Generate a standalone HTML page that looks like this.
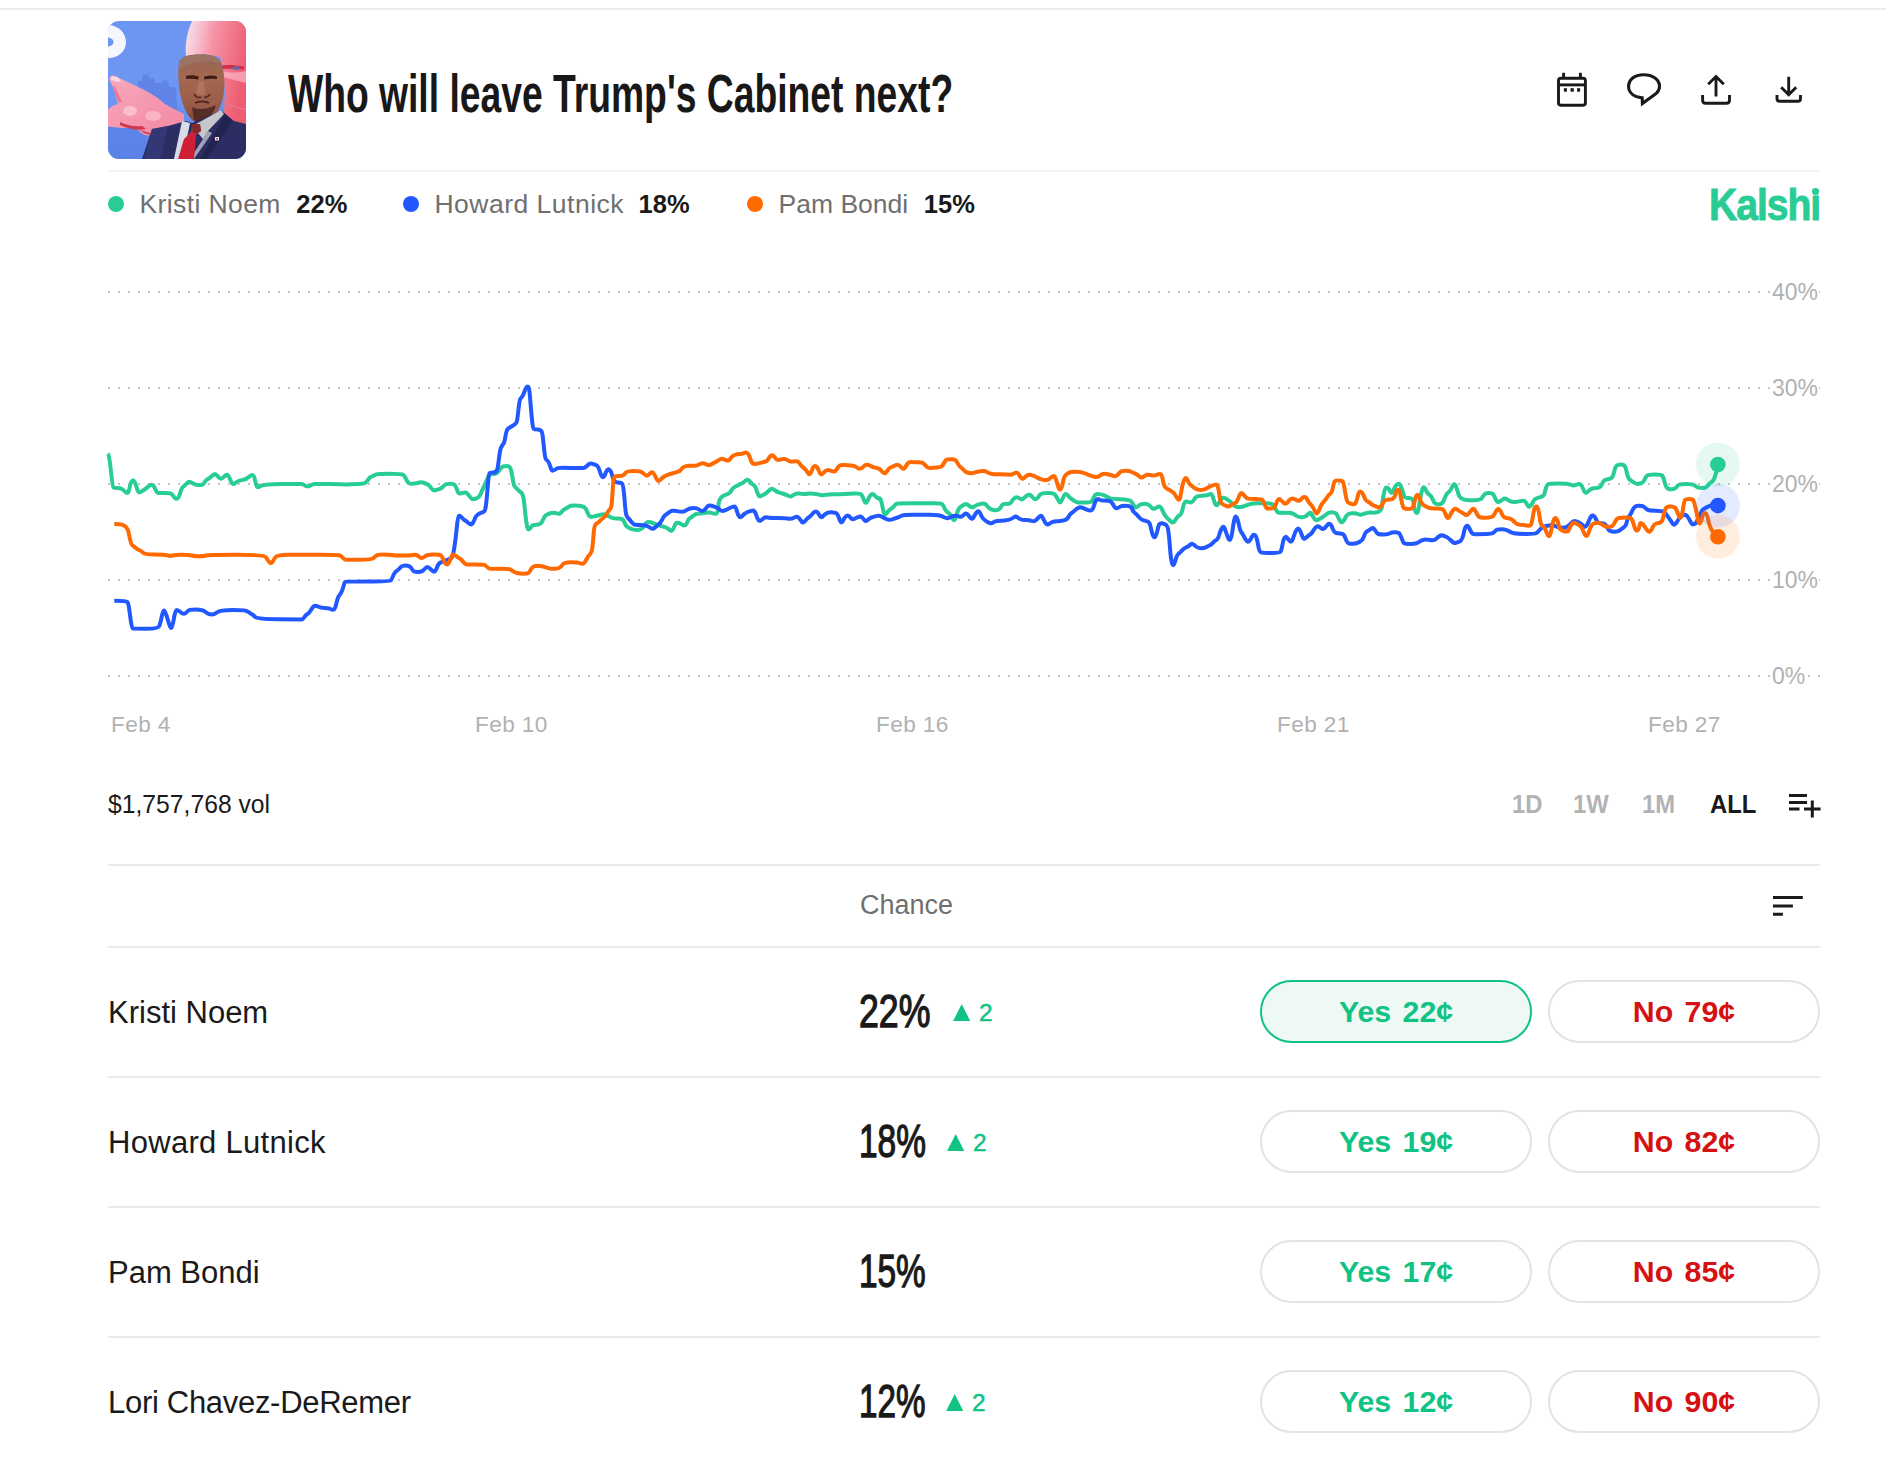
<!DOCTYPE html>
<html><head><meta charset="utf-8">
<style>
*{margin:0;padding:0;box-sizing:border-box}
html,body{width:1886px;height:1464px;background:#fff;overflow:hidden;font-family:"Liberation Sans",sans-serif;color:#1a1a1a}
.a{position:absolute;white-space:nowrap;line-height:normal}
.sep{position:absolute;left:108px;width:1712px;height:2px;background:#e9e9e9}
.lg{font-size:26.5px;color:#6f6f6f}
.lp{font-size:25.5px;font-weight:bold;color:#1a1a1a}
.yl{font-size:23px;color:#b1b1b1;background:#fff;left:1771px;padding:0 1px 0 1px}
.xl{font-size:22.6px;color:#b1b1b1;letter-spacing:0.4px}
.rg{font-size:26.5px;font-weight:bold;color:#b3b3b3;transform-origin:0 0}
.nm{left:108px;font-size:31px;color:#1a1a1a}
.pc{font-size:47px;font-weight:normal;-webkit-text-stroke:1.3px #1a1a1a;color:#1a1a1a;transform-origin:0 0}
.ch{font-size:24.5px;color:#10c383;-webkit-text-stroke:0.5px #10c383}
.bt{position:absolute;width:272px;height:63px;border:2px solid #e3e3e3;border-radius:32px;text-align:center;line-height:59px;font-size:30.3px;font-weight:bold;word-spacing:3px;background:#fff}
.ys{left:1260px;color:#10c383}
.no{left:1548px;color:#d51111}
</style></head><body>
<div style="position:absolute;left:0;top:8px;width:1886px;height:2px;background:#ececec"></div>

<!-- thumbnail -->
<svg style="position:absolute;left:108px;top:21px" width="138" height="138" viewBox="0 0 138 138">
<defs><clipPath id="thc"><rect width="138" height="138" rx="11" ry="11"/></clipPath>
<linearGradient id="bg" x1="0" y1="0" x2="0" y2="1"><stop offset="0" stop-color="#6d95f2"/><stop offset="0.55" stop-color="#6f96f2"/><stop offset="1" stop-color="#5a7fe6"/></linearGradient>
<linearGradient id="face" x1="0" y1="0" x2="1" y2="0.3"><stop offset="0" stop-color="#f6e4f0"/><stop offset="0.2" stop-color="#f8c6d4"/><stop offset="0.45" stop-color="#f594a6"/><stop offset="1" stop-color="#ee5c72"/></linearGradient>
<linearGradient id="hand" x1="0" y1="0" x2="1" y2="1"><stop offset="0" stop-color="#f6aabd"/><stop offset="0.6" stop-color="#f594ac"/><stop offset="1" stop-color="#f28aa3"/></linearGradient>
<linearGradient id="head" x1="0" y1="0" x2="0" y2="1"><stop offset="0" stop-color="#956556"/><stop offset="0.35" stop-color="#a4684f"/><stop offset="0.75" stop-color="#9a5c4a"/><stop offset="1" stop-color="#7a4438"/></linearGradient>
</defs>
<g clip-path="url(#thc)">
<rect width="138" height="138" fill="url(#bg)"/>
<path d="M30,104 L30,60 L34,60 L35,54 L40,53 L42,58 L46,57 L47,62 L54,62 L56,58 L60,61 L62,66 L68,66 L70,100 Z" fill="#5b7fe3" opacity="0.75"/>
<path d="M0,104 L36,104 L40,138 L0,138 Z" fill="#5d82e8" opacity="0.8"/>
<path fill-rule="evenodd" d="M-2,4 C9,3 18,11 18,21 C18,31 9,38 -2,37 Z M-2,16.5 C2,16 5.5,18 5.5,21 C5.5,24 2,26 -2,25.5 Z" fill="#f5f7fd"/>
<path d="M85,-2 L140,-2 L140,104 L124,100 L116,92 L117,72 L115,46 L112,36 L96,33 L78,35 C77,26 78,12 85,-2 Z" fill="url(#face)"/>
<path d="M113,44.5 C120,43.5 128,44 136,45.5 L136,48.5 C128,47.5 120,47.5 113,48 Z" fill="#cc2846" opacity="0.9"/>
<ellipse cx="128" cy="47.2" rx="3.5" ry="1.8" fill="#5d6fae"/>
<path d="M115,50 C122,52 130,52 138,50 L138,62 C130,60 122,58 116,56 Z" fill="#f9b8c6" opacity="0.7"/>
<path d="M115,80 C124,86 132,88 138,88" stroke="#e8788e" stroke-width="1.5" fill="none"/>
<path d="M3,62 C1,59 1,56 3,55 C5,54 8,55 11,57 L30,66 C42,71 50,77 57,83 L66,88 L76,93 L76,102 L60,106 L46,110 L43,114 C38,116 33,112 30,109 L20,107 C10,107 2,106 -2,105 L-2,90 C2,86 6,84 10,83 C8,76 6,68 3,62 Z" fill="url(#hand)"/>
<path d="M3,56 C5,54.5 8,55.5 11,57.5 L13,61 C9,61 5,60 3,58.5 Z" fill="#fcd6e0"/>
<path d="M6,64 C9,70 12,76 14,81 L11,82 C8,76 6,70 5,65 Z" fill="#e8687e" opacity="0.7"/>
<ellipse cx="22" cy="90" rx="7" ry="5" fill="#fbc8d4" opacity="0.8"/>
<ellipse cx="45" cy="95" rx="8" ry="5" fill="#fbc2d0" opacity="0.7"/>
<path d="M12,101 C18,104 26,106 34,105 L38,108 C30,110 20,108 12,104 Z" fill="#c8283e" opacity="0.85"/>
<path d="M32,109 L42,112 L43,114 L36,112 Z" fill="#c8283e" opacity="0.8"/>
<path d="M71,42 C72,36 80,33.5 92,33.5 C104,33.5 111,36 113,42 C116,50 117,60 116,70 C115,80 112,88 106,95 C102,99 97,102 92,102 C87,102 82,98 79,92 C75,85 72,75 71,65 C70,56 70,48 71,42 Z" fill="url(#head)"/>
<path d="M71,42 C72,36 80,33.5 92,33.5 C104,33.5 111,36 113,42 C106,41 98,40 90,41 C84,42 77,44 71,48 Z" fill="#9c7262"/>

<path d="M78,55 C82,53.5 87,54 91,56 L90,58.5 C86,57.5 82,57.5 78,58 Z M96,56 C100,54 105,54 109,55.5 L109,58 C105,57.5 100,57.5 96,58.5 Z" fill="#3e1c16"/>
<path d="M91,60 L88,72 C90,74 94,75 97,73 L96,61 Z" fill="#b47a66" opacity="0.8"/>
<path d="M86,73 C88,76 91,77 93,76 M96,76 C98,77 100,76 102,73" stroke="#5a2c24" stroke-width="1.5" fill="none"/>
<path d="M87,82 C91,80 97,80 101,82" stroke="#4a2420" stroke-width="1.8" fill="none"/>
<path d="M84,86 C90,89 98,89 108,84 C106,90 104,94 100,98 C96,101 90,102 86,99 Z" fill="#4c2622" opacity="0.85"/>
<path d="M34,138 L44,108 L60,105 L78,100 L84,102 L106,93 L113,89 L120,95 L126,100 L138,103 L138,138 Z" fill="#2c2d62"/>
<path d="M44,108 L60,105 L52,138 L36,138 Z" fill="#373a7c" opacity="0.8"/>
<path d="M74,100 L82,102 L80,112 L74,138 L66,138 Z" fill="#d8dbe8"/>
<path d="M88,103 L106,93 L113,89 L116,93 L100,110 L95,118 L90,112 Z" fill="#c6c7cc"/>
<path d="M95,118 L100,110 L104,112 L86,138 L82,138 Z" fill="#c0c2cc" opacity="0.8"/>
<path d="M84,103 L92,103 L93,110 L88,114 L86,138 L70,138 L76,118 L83,111 Z" fill="#cf2038"/>
<path d="M84,103 L92,103 L93,110 L88,113 L84,110 Z" fill="#7e2a2e"/>
<path d="M116,93 L124,99 L118,110 L106,128 L98,138 L92,138 L104,118 Z" fill="#222450"/>
<rect x="107" y="116" width="4" height="3.5" fill="#e6e8f2"/>
<rect x="108" y="117" width="2" height="1.5" fill="#d04050"/>
</g>
</svg>

<div class="a" id="title" style="left:288px;top:61.5px;font-size:54px;font-weight:bold;color:#181818;transform-origin:0 0;transform:scaleX(0.69)">Who will leave Trump's Cabinet next?</div>

<!-- header icons -->
<svg style="position:absolute;left:1540px;top:60px" width="290" height="60" viewBox="1540 60 290 60" fill="none" stroke="#1a1a1a" stroke-width="2.9">
<rect x="1558.5" y="78.2" width="26.9" height="27" rx="2.4"/>
<line x1="1558.5" y1="84.9" x2="1585.4" y2="84.9"/>
<line x1="1563.6" y1="72.8" x2="1563.6" y2="78.2"/>
<line x1="1580.4" y1="72.8" x2="1580.4" y2="78.2"/>
<g fill="#1a1a1a" stroke="none"><rect x="1563.9" y="88.2" width="3" height="3.5"/><rect x="1570.5" y="88.2" width="3.3" height="3.5"/><rect x="1577.1" y="88.2" width="3" height="3.5"/></g>
<path d="M1642.2,97.9 C1633.5,97 1628.6,92.5 1628.6,86.6 C1628.6,79.5 1634.5,74.8 1643.6,74.8 C1652.8,74.8 1659.5,79.5 1659.5,86.3 C1659.5,89.8 1657.6,92.6 1654.8,94.6 L1642.4,103.6 Z" stroke-width="3.1" stroke-linejoin="miter"/>
<path d="M1708.2,84.3 L1716,76.5 L1723.8,84.3 M1716,77 L1716,96.5 M1702.6,94.9 L1702.6,100.3 Q1702.6,103.3 1705.6,103.3 L1726.5,103.3 Q1729.5,103.3 1729.5,100.3 L1729.5,94.9"/>
<path d="M1781.2,87.2 L1788.7,94.7 L1796.2,87.2 M1788.7,76.8 L1788.7,95 M1777,94.9 L1777,98.8 Q1777,101.3 1779.5,101.3 L1798,101.3 Q1800.5,101.3 1800.5,98.8 L1800.5,94.9"/>
</svg>

<div class="sep" style="top:170px;height:2px;background:#f5f5f5"></div>

<!-- legend -->
<div class="a" style="left:108px;top:196px;width:16px;height:16px;border-radius:50%;background:#28cd94"></div>
<div class="a lg" style="left:139.5px;top:189.3px;letter-spacing:0.4px">Kristi Noem</div>
<div class="a lp" style="left:296.3px;top:190.2px">22%</div>
<div class="a" style="left:403px;top:196px;width:16px;height:16px;border-radius:50%;background:#2258ff"></div>
<div class="a lg" style="left:434.4px;top:189.3px;letter-spacing:0.5px">Howard Lutnick</div>
<div class="a lp" style="left:638.6px;top:190.2px">18%</div>
<div class="a" style="left:747px;top:196px;width:16px;height:16px;border-radius:50%;background:#ff6a00"></div>
<div class="a lg" style="left:778.6px;top:189.3px">Pam Bondi</div>
<div class="a lp" style="left:923.8px;top:190.2px">15%</div>

<div class="a" id="kal" style="left:1709px;top:180.5px;font-size:43.5px;font-weight:bold;color:#29cc94;letter-spacing:-1.2px;-webkit-text-stroke:0.9px #29cc94;transform-origin:0 0;transform:scaleX(0.9)">Kalsh&#305;</div>
<div class="a" style="left:1811.7px;top:187.8px;width:7.8px;height:7.4px;border-radius:50%;background:#29cc94"></div>

<!-- chart -->
<svg style="position:absolute;left:0;top:0" width="1886" height="760">
<g stroke="#c4c4c4" stroke-width="2" stroke-dasharray="2 8" fill="none">
<line x1="108" y1="292" x2="1822" y2="292"/>
<line x1="108" y1="388" x2="1822" y2="388"/>
<line x1="108" y1="484" x2="1822" y2="484"/>
<line x1="108" y1="580" x2="1822" y2="580"/>
<line x1="108" y1="676" x2="1822" y2="676"/>
</g>
<path d="M107.9,453.7 Q109.3,455.1 110.9,470.9 Q112.6,486.7 113.4,487.4 Q114.3,488.1 117.2,488.1 Q120.1,488.1 121.5,488.8 Q123.0,489.5 124.8,491.3 Q126.5,493.1 127.6,492.8 Q128.7,492.4 129.8,487.0 Q130.8,481.6 132.1,480.9 Q133.3,480.2 134.2,481.3 Q135.2,482.4 136.6,487.4 Q138.0,492.4 139.1,492.4 Q140.2,492.4 141.6,491.4 Q143.0,490.3 144.4,489.6 Q145.9,488.8 147.7,487.0 Q149.5,485.2 150.9,484.9 Q152.4,484.5 153.3,485.6 Q154.2,486.7 155.4,489.5 Q156.7,492.4 157.8,492.8 Q158.8,493.1 164.6,493.1 Q170.3,493.1 171.4,493.9 Q172.5,494.6 174.2,497.1 Q176.0,499.6 177.4,498.5 Q178.9,497.4 180.4,492.4 Q181.8,487.4 183.2,486.7 Q184.6,486.0 186.4,483.8 Q188.2,481.6 189.3,481.8 Q190.4,481.9 192.6,483.2 Q194.7,484.5 197.6,484.9 Q200.4,485.2 201.9,484.9 Q203.3,484.5 204.8,482.0 Q206.2,479.5 208.0,478.8 Q209.8,478.1 211.9,476.0 Q214.1,473.8 215.1,474.1 Q216.2,474.5 218.0,476.6 Q219.8,478.8 220.9,478.8 Q222.0,478.8 224.2,476.6 Q226.3,474.5 227.4,474.9 Q228.4,475.2 230.2,479.5 Q232.0,483.8 233.1,484.0 Q234.1,484.2 236.3,482.2 Q238.5,480.2 242.4,479.9 Q246.3,479.5 248.9,477.0 Q251.4,474.5 252.8,475.2 Q254.2,475.9 255.3,481.3 Q256.4,486.7 257.4,487.0 Q258.5,487.4 261.1,485.8 Q263.6,484.2 281.8,484.0 Q300.0,483.8 301.4,484.0 Q302.9,484.2 304.3,485.1 Q305.7,486.0 307.1,486.4 Q308.6,486.7 310.8,485.4 Q312.9,484.2 314.4,484.0 Q315.8,483.8 329.4,484.0 Q343.0,484.2 345.1,484.4 Q347.3,484.5 349.5,484.2 Q351.6,483.9 358.1,483.9 Q364.6,483.9 366.0,482.4 Q367.4,480.9 368.5,479.1 Q369.6,477.3 371.4,476.6 Q373.2,475.9 375.0,474.9 Q376.8,473.8 389.4,473.8 Q401.9,473.8 403.3,474.9 Q404.7,475.9 406.1,479.1 Q407.6,482.4 408.7,483.1 Q409.8,483.8 412.3,483.8 Q414.8,483.8 417.6,482.9 Q420.5,481.9 422.6,482.5 Q424.8,483.1 427.0,484.1 Q429.1,485.2 431.2,488.1 Q433.4,491.0 435.5,490.2 Q437.7,489.5 439.9,488.8 Q442.0,488.1 443.4,486.3 Q444.9,484.5 446.4,484.1 Q447.8,483.8 450.6,483.8 Q453.5,483.8 454.6,484.9 Q455.7,486.0 456.8,489.2 Q457.8,492.4 458.6,493.1 Q459.3,493.8 461.5,493.3 Q463.6,492.8 465.0,492.6 Q466.4,492.4 467.9,494.2 Q469.3,496.0 470.8,497.8 Q472.2,499.6 473.6,499.2 Q475.0,498.9 477.1,498.1 Q479.3,497.4 480.4,494.5 Q481.5,491.7 482.6,489.5 Q483.6,487.4 485.8,482.4 Q487.9,477.3 488.9,475.6 Q490.0,474.0 492.9,474.0 Q495.7,474.0 497.1,472.9 Q498.6,471.8 500.1,469.3 Q501.5,466.8 502.9,466.5 Q504.3,466.1 506.9,466.1 Q509.4,466.1 510.1,467.6 Q510.8,469.0 511.5,472.2 Q512.2,475.4 513.0,480.4 Q513.7,485.5 515.1,486.9 Q516.5,488.3 518.0,489.8 Q519.4,491.2 521.2,492.6 Q523.0,494.1 523.7,499.1 Q524.4,504.1 525.1,512.0 Q525.9,519.9 526.8,524.9 Q527.6,529.9 528.9,529.2 Q530.2,528.5 531.2,526.7 Q532.3,524.9 536.2,524.7 Q540.2,524.5 541.3,522.9 Q542.4,521.3 543.5,518.8 Q544.5,516.3 546.0,515.2 Q547.4,514.2 549.5,513.5 Q551.7,512.7 553.5,512.7 Q555.3,512.7 557.1,513.5 Q558.9,514.2 560.0,513.5 Q561.0,512.7 562.1,511.3 Q563.2,509.9 565.4,508.8 Q567.5,507.7 568.9,506.6 Q570.3,505.6 574.6,505.6 Q579.0,505.6 581.9,506.3 Q584.7,507.0 585.8,508.8 Q586.8,510.6 587.9,513.5 Q589.0,516.3 590.0,516.6 Q591.1,517.0 592.9,516.6 Q594.7,516.3 596.9,515.8 Q599.0,515.3 600.8,514.6 Q602.6,513.9 604.4,514.4 Q606.2,514.9 607.7,515.6 Q609.1,516.3 611.2,517.4 Q613.4,518.5 617.7,518.5 Q622.0,518.5 623.0,519.9 Q624.1,521.3 624.9,523.5 Q625.6,525.6 627.4,526.9 Q629.2,528.2 631.4,529.0 Q633.5,529.9 636.4,529.9 Q639.2,529.9 641.0,529.2 Q642.8,528.5 644.6,525.3 Q646.4,522.1 648.5,522.1 Q650.7,522.1 653.5,523.3 Q656.4,524.5 659.3,525.5 Q662.2,526.4 664.0,526.8 Q665.8,527.1 667.2,528.2 Q668.6,529.2 670.0,530.3 Q671.5,531.4 672.5,530.0 Q673.6,528.5 674.7,525.6 Q675.8,522.8 676.8,522.8 Q677.9,522.8 679.0,523.0 Q680.0,523.3 682.1,524.6 Q684.2,526.0 685.3,525.2 Q686.4,524.4 687.5,521.8 Q688.5,519.1 689.8,518.3 Q691.1,517.5 693.5,515.6 Q695.9,513.8 697.2,513.8 Q698.6,513.8 700.5,513.5 Q702.3,513.2 703.9,513.0 Q705.5,512.7 707.6,512.5 Q709.7,512.2 711.8,513.0 Q713.9,513.8 715.5,513.8 Q717.1,513.8 717.7,511.1 Q718.2,508.5 718.5,505.3 Q718.7,502.1 719.8,499.7 Q720.8,497.3 722.6,496.2 Q724.5,495.2 726.6,494.4 Q728.8,493.6 729.8,492.6 Q730.9,491.5 732.0,489.6 Q733.0,487.8 735.1,486.8 Q737.3,485.7 739.1,484.6 Q741.0,483.6 742.3,483.1 Q743.6,482.5 745.2,480.9 Q746.8,479.3 747.8,479.9 Q748.9,480.4 750.5,482.2 Q752.1,484.1 753.7,485.1 Q755.3,486.2 756.1,488.9 Q756.9,491.5 758.0,494.1 Q759.0,496.8 760.4,496.2 Q761.7,495.7 763.8,494.6 Q765.9,493.6 767.5,492.0 Q769.1,490.4 770.4,489.4 Q771.7,488.3 773.0,489.1 Q774.4,489.9 775.7,490.9 Q777.0,492.0 779.4,492.7 Q781.8,493.4 783.9,494.0 Q786.0,494.7 788.1,495.8 Q790.3,496.8 791.3,496.2 Q792.4,495.7 794.5,494.4 Q796.6,493.1 799.8,493.6 Q803.0,494.2 805.1,493.9 Q807.3,493.6 810.5,493.6 Q813.6,493.6 815.8,493.9 Q817.9,494.2 820.0,494.9 Q822.1,495.7 825.3,494.9 Q828.5,494.2 833.8,494.2 Q839.1,494.2 844.4,493.9 Q849.7,493.6 855.0,493.5 Q860.3,493.4 861.3,494.5 Q862.4,495.7 863.5,498.9 Q864.5,502.1 865.5,502.6 Q866.6,503.2 867.7,500.5 Q868.8,497.9 870.1,495.8 Q871.4,493.6 872.8,494.1 Q874.1,494.7 875.7,496.3 Q877.2,497.9 878.0,498.4 Q878.8,498.9 879.4,498.4 Q880.0,497.9 880.8,500.0 Q881.6,502.1 882.7,507.9 Q883.7,513.8 884.8,514.3 Q885.8,514.8 886.9,513.0 Q888.0,511.1 889.3,510.1 Q890.6,509.0 892.0,508.2 Q893.3,507.4 894.3,505.8 Q895.4,504.2 897.0,503.7 Q898.6,503.2 911.5,503.2 Q924.5,503.2 932.2,503.2 Q939.9,503.2 941.2,503.7 Q942.6,504.2 943.4,505.8 Q944.2,507.4 945.0,509.2 Q945.7,511.1 947.6,512.2 Q949.5,513.2 950.8,515.1 Q952.1,517.0 952.9,518.9 Q953.7,520.7 954.5,519.9 Q955.3,519.1 956.1,516.5 Q956.9,513.8 957.7,511.1 Q958.5,508.5 960.6,506.9 Q962.7,505.3 964.3,504.5 Q965.9,503.7 967.0,504.2 Q968.0,504.8 969.9,506.4 Q971.7,507.9 973.5,506.9 Q975.4,505.8 977.0,505.0 Q978.6,504.2 981.8,503.7 Q985.0,503.2 986.6,505.3 Q988.2,507.4 989.5,508.4 Q990.8,509.5 993.7,510.1 Q996.6,510.6 998.2,509.8 Q999.8,509.0 1000.9,506.9 Q1002.0,504.8 1003.5,504.2 Q1005.1,503.7 1007.5,503.9 Q1009.9,504.2 1011.2,502.1 Q1012.6,500.0 1014.2,498.4 Q1015.7,496.8 1017.3,497.4 Q1018.9,497.9 1020.5,498.9 Q1022.1,500.0 1023.7,498.4 Q1025.3,496.8 1026.9,495.5 Q1028.5,494.2 1030.0,494.9 Q1031.6,495.7 1033.2,497.9 Q1034.8,500.0 1036.4,498.9 Q1038.0,497.9 1039.0,496.0 Q1040.1,494.2 1041.7,493.6 Q1043.3,493.1 1048.6,493.1 Q1053.9,493.1 1055.2,495.0 Q1056.6,496.8 1058.2,500.0 Q1059.7,503.2 1060.8,501.9 Q1061.9,500.5 1063.0,497.6 Q1064.0,494.7 1065.3,494.1 Q1066.6,493.6 1068.2,495.8 Q1069.8,497.9 1071.2,498.7 Q1072.5,499.5 1074.3,500.8 Q1076.2,502.1 1078.1,502.4 Q1080.0,502.6 1085.3,502.6 Q1090.6,502.6 1091.7,501.3 Q1092.7,500.0 1093.8,497.4 Q1094.8,494.7 1096.4,494.1 Q1098.0,493.6 1101.2,494.4 Q1104.4,495.2 1106.5,496.5 Q1108.6,497.9 1110.2,498.4 Q1111.8,498.9 1120.3,499.2 Q1128.8,499.5 1130.4,500.8 Q1132.0,502.1 1133.0,504.2 Q1134.1,506.4 1135.2,507.1 Q1136.2,507.9 1137.8,506.4 Q1139.4,504.8 1141.5,504.2 Q1143.6,503.7 1146.2,503.9 Q1148.9,504.2 1150.5,506.4 Q1152.1,508.5 1153.2,508.8 Q1154.2,509.0 1156.3,507.7 Q1158.5,506.4 1159.8,506.6 Q1161.1,506.9 1162.4,510.3 Q1163.8,513.8 1165.4,515.9 Q1167.0,518.0 1168.5,519.4 Q1170.1,520.7 1171.4,522.0 Q1172.8,523.3 1174.1,521.7 Q1175.4,520.1 1176.5,518.2 Q1177.6,516.4 1179.2,515.6 Q1180.7,514.8 1181.5,512.7 Q1182.3,510.6 1183.1,506.9 Q1183.9,503.2 1185.0,502.1 Q1186.0,501.0 1188.2,501.8 Q1190.3,502.6 1191.3,502.4 Q1192.4,502.1 1193.8,500.0 Q1195.1,497.9 1196.4,496.8 Q1197.7,495.7 1202.5,495.7 Q1207.3,495.7 1209.2,494.6 Q1211.0,493.6 1211.8,494.6 Q1212.6,495.7 1213.7,499.7 Q1214.7,503.7 1215.8,504.8 Q1216.8,505.8 1217.8,504.5 Q1218.9,503.2 1220.5,500.0 Q1222.1,496.8 1224.8,498.1 Q1227.4,499.5 1229.0,500.6 Q1230.6,501.6 1232.2,503.7 Q1233.8,505.8 1235.9,506.6 Q1238.0,507.4 1240.1,507.1 Q1242.2,506.9 1244.3,506.1 Q1246.5,505.3 1249.7,504.2 Q1252.9,503.2 1256.6,503.2 Q1260.3,503.2 1266.7,503.2 Q1273.0,503.2 1274.6,506.9 Q1276.2,510.6 1277.2,511.7 Q1278.3,512.7 1279.2,512.7 Q1280.0,512.7 1285.8,512.7 Q1291.7,512.7 1293.2,513.8 Q1294.8,514.8 1296.4,515.9 Q1298.0,517.0 1301.2,517.2 Q1304.4,517.5 1306.0,516.1 Q1307.6,514.8 1308.9,513.5 Q1310.2,512.2 1311.0,513.2 Q1311.8,514.3 1312.8,516.4 Q1313.9,518.5 1315.2,519.6 Q1316.6,520.7 1318.4,519.6 Q1320.3,518.5 1322.4,517.2 Q1324.5,515.9 1326.1,514.5 Q1327.7,513.2 1329.3,512.7 Q1330.9,512.2 1333.0,512.4 Q1335.1,512.5 1336.2,513.6 Q1337.3,514.8 1338.3,517.5 Q1339.4,520.1 1340.5,521.5 Q1341.5,522.8 1342.5,522.0 Q1343.6,521.2 1345.2,518.0 Q1346.8,514.8 1348.4,514.0 Q1350.0,513.2 1353.2,513.2 Q1356.4,513.2 1358.5,514.3 Q1360.6,515.4 1362.7,514.3 Q1364.8,513.2 1366.9,512.9 Q1369.1,512.5 1371.2,512.6 Q1373.3,512.7 1375.4,512.5 Q1377.6,512.2 1379.7,511.2 Q1381.8,510.1 1382.3,504.0 Q1382.9,497.9 1384.0,492.9 Q1385.0,487.8 1386.0,487.6 Q1387.1,487.3 1388.2,488.4 Q1389.2,489.4 1390.2,491.5 Q1391.3,493.6 1392.4,492.0 Q1393.5,490.4 1395.0,487.2 Q1396.6,484.1 1397.9,483.9 Q1399.3,483.6 1400.3,485.1 Q1401.4,486.7 1402.5,490.7 Q1403.5,494.7 1404.3,496.3 Q1405.1,497.9 1408.3,498.1 Q1411.5,498.4 1412.3,499.2 Q1413.1,500.0 1413.9,505.3 Q1414.7,510.6 1415.5,511.9 Q1416.3,513.2 1417.1,513.0 Q1417.9,512.7 1418.7,508.5 Q1419.4,504.2 1420.2,498.9 Q1421.0,493.6 1422.1,490.1 Q1423.2,486.7 1424.2,487.5 Q1425.3,488.3 1426.1,490.5 Q1426.9,492.6 1428.2,493.6 Q1429.5,494.7 1430.5,495.8 Q1431.6,496.8 1432.7,499.5 Q1433.8,502.1 1434.8,503.1 Q1435.9,504.2 1439.1,504.2 Q1442.2,504.2 1443.3,501.5 Q1444.4,498.9 1445.5,496.2 Q1446.5,493.6 1448.1,492.6 Q1449.7,491.5 1450.8,489.4 Q1451.8,487.3 1452.8,485.5 Q1453.9,483.6 1455.0,484.6 Q1456.0,485.7 1457.1,489.6 Q1458.2,493.6 1459.0,495.5 Q1459.7,497.3 1461.1,498.1 Q1462.4,498.9 1464.5,499.7 Q1466.6,500.5 1473.3,500.2 Q1480.0,500.0 1481.0,498.9 Q1482.1,497.9 1483.2,496.0 Q1484.2,494.2 1485.8,493.5 Q1487.4,492.8 1489.6,493.0 Q1491.7,493.1 1492.8,493.9 Q1493.8,494.7 1494.8,497.4 Q1495.9,500.0 1497.0,501.3 Q1498.0,502.6 1499.6,501.6 Q1501.2,500.5 1502.8,499.4 Q1504.4,498.4 1505.5,498.6 Q1506.5,498.9 1507.8,499.9 Q1509.2,501.0 1510.5,501.4 Q1511.8,501.9 1515.0,501.9 Q1518.2,501.9 1520.3,501.2 Q1522.4,500.5 1523.8,500.8 Q1525.1,501.0 1526.2,502.9 Q1527.2,504.8 1528.2,506.1 Q1529.3,507.4 1530.7,505.8 Q1532.0,504.2 1533.0,501.9 Q1534.1,499.5 1535.7,498.7 Q1537.3,497.9 1539.4,497.4 Q1541.5,496.8 1542.8,496.0 Q1544.2,495.2 1544.7,492.8 Q1545.2,490.4 1546.0,487.8 Q1546.8,485.1 1547.8,484.4 Q1548.9,483.6 1558.5,483.6 Q1568.0,483.6 1570.2,484.6 Q1572.3,485.7 1573.8,485.4 Q1575.4,485.1 1577.3,484.4 Q1579.2,483.6 1580.5,484.4 Q1581.8,485.1 1582.8,488.1 Q1583.9,491.0 1585.0,492.2 Q1586.0,493.4 1587.6,491.9 Q1589.2,490.4 1590.6,489.4 Q1591.9,488.3 1595.8,488.1 Q1599.8,487.8 1600.9,486.0 Q1602.0,484.1 1603.0,482.0 Q1604.1,479.8 1607.8,479.3 Q1611.5,478.8 1612.5,476.6 Q1613.6,474.5 1614.4,470.8 Q1615.2,467.1 1616.6,465.8 Q1617.9,464.5 1620.8,464.5 Q1623.7,464.5 1624.8,466.1 Q1625.8,467.6 1626.8,472.6 Q1627.9,477.7 1629.2,479.0 Q1630.6,480.4 1632.2,481.4 Q1633.8,482.5 1635.3,483.3 Q1636.9,484.1 1638.5,483.8 Q1640.0,483.4 1641.7,483.0 Q1643.3,482.6 1644.5,479.8 Q1645.7,476.9 1647.0,475.6 Q1648.2,474.4 1654.8,474.4 Q1661.3,474.4 1662.3,475.6 Q1663.4,476.9 1664.4,481.4 Q1665.4,485.9 1666.7,487.5 Q1667.9,489.2 1671.2,489.2 Q1674.4,489.2 1675.7,487.9 Q1676.9,486.7 1678.1,485.3 Q1679.3,483.9 1685.9,483.9 Q1692.5,483.9 1694.5,485.3 Q1696.6,486.7 1697.8,487.4 Q1699.0,488.0 1702.3,488.0 Q1705.6,488.0 1706.8,486.6 Q1708.0,485.1 1709.7,483.6 Q1711.3,482.2 1712.5,481.2 Q1713.8,480.2 1714.6,477.7 Q1715.4,475.2 1715.8,473.6 Q1716.2,472.0 1717.1,468.3 L1717.9,464.6" fill="none" stroke="#28cd94" stroke-width="4.0" stroke-linejoin="round" stroke-linecap="butt"/>
<path d="M114.3,600.7 Q126.5,600.7 127.6,602.2 Q128.7,603.6 130.1,615.8 Q131.6,628.0 132.6,628.4 Q133.7,628.7 145.9,628.7 Q158.1,628.7 159.2,626.2 Q160.3,623.7 161.7,616.9 Q163.1,610.1 164.2,610.5 Q165.3,610.8 167.8,619.8 Q170.3,628.7 171.4,627.7 Q172.5,626.6 173.9,618.4 Q175.3,610.1 176.8,610.1 Q178.2,610.1 180.7,612.2 Q183.2,614.4 184.6,613.6 Q186.1,612.9 187.6,611.2 Q189.0,609.6 195.8,609.6 Q202.6,609.6 205.4,612.0 Q208.3,614.4 211.6,614.4 Q214.8,614.4 217.3,612.2 Q219.8,610.1 233.1,610.1 Q246.3,610.1 248.4,611.9 Q250.6,613.6 252.1,614.4 Q253.5,615.1 255.3,617.1 Q257.1,619.1 278.6,619.2 Q300.0,619.4 301.4,619.4 Q302.9,619.4 304.3,617.2 Q305.7,615.1 307.5,614.0 Q309.3,612.9 311.5,609.3 Q313.6,605.8 315.1,605.8 Q316.5,605.8 318.6,606.8 Q320.8,607.9 324.4,607.9 Q328.0,607.9 330.5,609.0 Q333.0,610.1 334.1,609.4 Q335.2,608.6 336.6,602.5 Q338.0,596.4 339.8,594.6 Q341.6,592.8 343.1,587.5 Q344.5,582.1 345.2,581.8 Q345.9,581.4 367.8,581.4 Q389.7,581.4 390.8,580.3 Q391.8,579.2 393.2,575.6 Q394.7,572.0 396.5,571.0 Q398.3,569.9 400.1,567.8 Q401.9,565.6 405.9,565.6 Q409.8,565.6 411.6,568.5 Q413.3,571.3 414.1,571.6 Q414.8,572.0 418.4,572.0 Q422.0,572.0 424.1,569.5 Q426.3,567.0 427.4,567.0 Q428.4,567.0 430.9,569.5 Q433.4,572.0 434.5,571.6 Q435.6,571.3 437.1,567.3 Q438.5,563.4 440.2,562.7 Q442.0,562.0 445.6,560.5 Q449.2,559.1 451.0,558.4 Q452.8,557.7 454.2,548.4 Q455.7,539.0 456.8,527.5 Q457.8,516.1 458.9,515.8 Q460.0,515.4 461.8,517.5 Q463.6,519.7 465.0,520.4 Q466.4,521.1 468.5,523.1 Q470.7,525.1 471.8,524.2 Q472.9,523.3 474.4,519.7 Q475.8,516.1 477.2,515.0 Q478.6,513.9 480.4,513.2 Q482.2,512.5 483.6,511.8 Q485.1,511.1 485.8,506.4 Q486.5,501.7 487.6,488.1 Q488.7,474.5 489.4,473.6 Q490.0,472.6 492.9,472.6 Q495.7,472.6 496.8,470.5 Q497.9,468.3 498.9,459.0 Q500.0,449.6 501.1,447.5 Q502.2,445.3 503.2,444.2 Q504.3,443.1 505.4,436.6 Q506.5,430.2 507.6,429.1 Q508.7,428.1 510.5,427.0 Q512.2,425.9 514.0,424.9 Q515.8,423.8 516.5,422.4 Q517.3,420.9 518.3,410.9 Q519.4,400.8 520.1,399.4 Q520.8,398.0 521.9,396.9 Q523.0,395.8 524.5,391.5 Q525.9,387.2 527.0,386.7 Q528.0,386.2 528.8,387.8 Q529.5,389.3 530.5,403.0 Q531.6,416.6 532.3,422.4 Q533.0,428.1 533.8,428.8 Q534.5,429.5 537.4,429.5 Q540.2,429.5 541.3,430.9 Q542.4,432.4 543.1,439.5 Q543.8,446.7 544.5,452.4 Q545.2,458.2 546.0,459.3 Q546.7,460.4 547.8,461.1 Q548.8,461.8 549.9,465.4 Q551.0,469.0 551.7,470.1 Q552.4,471.1 554.2,470.1 Q556.0,469.0 557.5,468.2 Q558.9,467.5 571.1,467.9 Q583.3,468.3 584.7,467.6 Q586.1,466.8 587.9,465.0 Q589.7,463.2 591.5,463.6 Q593.3,464.0 595.1,464.7 Q596.9,465.4 598.0,466.9 Q599.0,468.3 600.1,472.2 Q601.2,476.1 602.2,476.9 Q603.3,477.6 604.0,476.5 Q604.8,475.4 605.8,472.5 Q606.9,469.7 608.0,469.4 Q609.1,469.0 610.2,470.4 Q611.2,471.8 612.0,474.7 Q612.7,477.6 613.8,480.1 Q614.8,482.6 618.0,482.6 Q621.3,482.6 622.3,484.1 Q623.4,485.5 624.5,499.1 Q625.6,512.7 626.3,514.9 Q627.0,517.0 628.5,518.5 Q629.9,519.9 631.3,521.7 Q632.8,523.5 633.8,524.2 Q634.9,524.9 639.9,524.9 Q644.9,524.9 647.1,526.0 Q649.3,527.1 651.0,528.2 Q652.8,529.2 654.6,527.8 Q656.4,526.4 658.5,524.6 Q660.7,522.8 662.2,519.5 Q663.6,516.3 665.0,515.2 Q666.5,514.2 668.6,512.6 Q670.8,511.0 672.2,510.8 Q673.6,510.6 676.8,511.1 Q680.0,511.7 682.1,511.7 Q684.2,511.7 686.9,509.8 Q689.5,507.9 693.2,507.9 Q697.0,507.9 699.1,509.5 Q701.2,511.1 702.5,511.1 Q703.9,511.1 705.8,508.5 Q707.6,505.8 709.2,505.6 Q710.8,505.3 713.5,506.4 Q716.1,507.4 717.4,507.9 Q718.7,508.5 720.3,510.1 Q721.9,511.7 724.8,510.4 Q727.7,509.0 729.3,508.2 Q730.9,507.4 732.5,506.9 Q734.1,506.4 734.9,506.6 Q735.7,506.9 736.8,510.8 Q737.8,514.8 739.1,516.4 Q740.4,518.0 741.8,516.4 Q743.1,514.8 745.0,513.5 Q746.8,512.2 749.5,511.4 Q752.1,510.6 753.2,510.6 Q754.2,510.6 755.0,512.2 Q755.8,513.8 756.8,516.7 Q757.9,519.6 758.7,520.4 Q759.5,521.2 760.9,520.4 Q762.2,519.6 763.5,518.3 Q764.8,517.0 767.5,517.5 Q770.1,518.0 777.5,518.0 Q785.0,518.0 787.6,518.5 Q790.3,519.1 791.9,518.5 Q793.5,518.0 795.0,517.2 Q796.6,516.4 798.0,517.2 Q799.3,518.0 800.6,520.1 Q802.0,522.3 802.8,522.5 Q803.5,522.8 804.6,521.5 Q805.7,520.1 807.0,518.8 Q808.3,517.5 809.9,516.5 Q811.5,515.4 812.5,513.8 Q813.6,512.2 814.7,511.7 Q815.7,511.1 816.8,511.9 Q817.9,512.7 819.0,514.5 Q820.0,516.4 821.0,517.0 Q822.1,517.5 823.2,516.1 Q824.2,514.8 825.8,513.8 Q827.4,512.7 829.0,512.5 Q830.6,512.2 833.2,512.5 Q835.9,512.7 837.0,513.8 Q838.0,514.8 839.0,518.0 Q840.1,521.2 840.9,522.0 Q841.7,522.8 842.8,521.0 Q843.8,519.1 845.1,517.2 Q846.5,515.4 847.5,515.4 Q848.6,515.4 849.7,516.7 Q850.7,518.0 851.8,518.8 Q852.9,519.6 854.5,518.8 Q856.0,518.0 857.6,517.2 Q859.2,516.4 860.2,516.4 Q861.3,516.4 862.4,517.8 Q863.5,519.1 864.5,520.2 Q865.6,521.2 866.7,520.7 Q867.7,520.1 869.3,518.8 Q870.9,517.5 873.0,517.0 Q875.1,516.4 877.5,515.9 Q880.0,515.4 882.6,517.2 Q885.3,519.1 888.0,519.6 Q890.6,520.1 893.2,519.0 Q895.9,518.0 897.8,517.5 Q899.6,517.0 901.2,515.9 Q902.8,514.8 913.6,514.8 Q924.5,514.8 929.8,514.8 Q935.1,514.8 938.3,515.3 Q941.5,515.9 944.1,517.2 Q946.8,518.5 948.4,518.0 Q950.0,517.5 952.1,516.5 Q954.2,515.4 956.4,515.9 Q958.5,516.4 960.1,516.7 Q961.7,517.0 963.2,515.4 Q964.8,513.8 965.9,513.5 Q967.0,513.2 968.3,515.1 Q969.6,517.0 971.0,518.3 Q972.3,519.6 973.6,517.2 Q974.9,514.8 976.2,513.0 Q977.6,511.1 978.7,511.4 Q979.7,511.7 980.8,514.4 Q981.8,517.0 983.1,518.5 Q984.5,520.1 985.8,520.9 Q987.1,521.7 989.0,522.8 Q990.8,523.8 992.1,523.0 Q993.5,522.3 995.0,521.5 Q996.6,520.7 1000.9,520.7 Q1005.1,520.7 1008.3,519.9 Q1011.5,519.1 1013.6,517.5 Q1015.7,515.9 1017.3,517.2 Q1018.9,518.5 1020.5,519.3 Q1022.1,520.1 1025.8,520.1 Q1029.5,520.1 1031.7,520.9 Q1033.8,521.7 1035.3,520.7 Q1036.9,519.6 1038.5,517.5 Q1040.1,515.4 1041.2,515.9 Q1042.2,516.4 1043.6,519.6 Q1044.9,522.8 1046.2,523.8 Q1047.6,524.9 1049.2,523.8 Q1050.7,522.8 1052.3,522.0 Q1053.9,521.2 1057.1,521.2 Q1060.3,521.2 1063.8,520.4 Q1067.2,519.6 1068.5,517.0 Q1069.8,514.3 1071.4,513.2 Q1073.0,512.2 1074.6,510.6 Q1076.2,509.0 1078.1,507.9 Q1080.0,506.9 1082.1,507.7 Q1084.2,508.5 1087.4,509.8 Q1090.6,511.1 1091.9,509.8 Q1093.3,508.5 1094.3,504.8 Q1095.4,501.0 1096.5,499.7 Q1097.5,498.4 1099.3,499.4 Q1101.2,500.5 1102.8,500.5 Q1104.4,500.5 1107.6,500.8 Q1110.8,501.0 1111.8,502.6 Q1112.9,504.2 1114.2,506.4 Q1115.5,508.5 1116.8,508.2 Q1118.2,507.9 1119.8,506.9 Q1121.4,505.8 1125.6,505.8 Q1129.8,505.8 1130.9,507.1 Q1132.0,508.5 1132.8,510.4 Q1133.6,512.2 1135.4,513.5 Q1137.3,514.8 1138.3,516.4 Q1139.4,518.0 1141.5,519.4 Q1143.6,520.7 1146.0,521.0 Q1148.4,521.2 1149.5,523.3 Q1150.5,525.4 1151.3,529.6 Q1152.1,533.9 1153.2,536.0 Q1154.2,538.2 1155.3,536.6 Q1156.4,535.0 1157.5,530.2 Q1158.5,525.4 1159.3,524.3 Q1160.1,523.3 1161.4,523.3 Q1162.7,523.3 1165.1,524.3 Q1167.5,525.4 1168.3,530.7 Q1169.1,536.0 1169.9,546.6 Q1170.7,557.3 1171.5,561.0 Q1172.3,564.7 1173.0,565.0 Q1173.8,565.2 1174.6,562.8 Q1175.4,560.4 1176.2,557.8 Q1177.0,555.1 1178.3,554.0 Q1179.7,553.0 1181.8,550.6 Q1183.9,548.2 1186.1,547.4 Q1188.2,546.6 1189.8,545.0 Q1191.3,543.5 1192.7,544.0 Q1194.0,544.5 1195.8,546.4 Q1197.7,548.2 1200.9,548.2 Q1204.1,548.2 1205.7,547.4 Q1207.3,546.6 1209.4,545.5 Q1211.5,544.5 1213.1,542.6 Q1214.7,540.8 1216.3,540.0 Q1217.9,539.2 1219.0,535.5 Q1220.0,531.8 1221.3,529.1 Q1222.6,526.5 1223.4,526.8 Q1224.2,527.0 1225.6,531.0 Q1226.9,535.0 1228.0,537.6 Q1229.0,540.3 1230.0,539.8 Q1231.1,539.2 1232.2,532.3 Q1233.2,525.4 1234.0,520.9 Q1234.8,516.4 1235.6,516.4 Q1236.4,516.4 1237.5,519.3 Q1238.5,522.3 1239.3,526.5 Q1240.1,530.7 1241.2,532.0 Q1242.2,533.4 1243.3,535.2 Q1244.4,537.1 1245.5,539.2 Q1246.5,541.3 1247.5,541.6 Q1248.6,541.9 1249.7,540.5 Q1250.7,539.2 1251.8,536.9 Q1252.9,534.5 1254.2,534.8 Q1255.5,535.0 1256.3,537.1 Q1257.1,539.2 1258.2,545.3 Q1259.2,551.4 1260.8,552.2 Q1262.4,553.0 1271.2,553.0 Q1280.0,553.0 1280.8,551.4 Q1281.6,549.8 1282.4,545.0 Q1283.2,540.3 1284.0,538.7 Q1284.8,537.1 1285.6,536.9 Q1286.4,536.6 1287.7,538.5 Q1289.0,540.3 1290.3,541.3 Q1291.7,542.4 1292.8,539.2 Q1293.8,536.0 1295.1,532.6 Q1296.4,529.2 1297.5,528.7 Q1298.6,528.1 1299.7,530.0 Q1300.7,531.8 1301.8,535.0 Q1302.8,538.2 1303.8,538.7 Q1304.9,539.2 1306.2,537.6 Q1307.6,536.0 1309.7,534.7 Q1311.8,533.4 1312.8,531.5 Q1313.9,529.7 1315.2,527.9 Q1316.6,526.0 1317.9,526.2 Q1319.2,526.5 1320.8,527.9 Q1322.4,529.2 1323.5,528.9 Q1324.5,528.6 1326.1,526.5 Q1327.7,524.4 1328.8,523.8 Q1329.8,523.3 1330.9,524.9 Q1332.0,526.5 1333.0,529.4 Q1334.1,532.3 1335.7,532.8 Q1337.3,533.4 1339.9,533.4 Q1342.6,533.4 1343.7,534.7 Q1344.7,536.0 1345.8,539.2 Q1346.8,542.4 1348.4,543.2 Q1350.0,544.0 1353.2,543.8 Q1356.4,543.5 1359.6,541.9 Q1362.7,540.3 1363.8,536.8 Q1364.8,533.4 1365.9,532.3 Q1367.0,531.3 1368.5,530.5 Q1370.1,529.7 1371.4,528.7 Q1372.8,527.6 1373.8,528.7 Q1374.9,529.7 1376.0,531.5 Q1377.0,533.4 1378.3,534.0 Q1379.7,534.5 1384.0,534.5 Q1388.2,534.5 1389.8,533.4 Q1391.3,532.3 1395.0,532.3 Q1398.8,532.3 1399.8,534.1 Q1400.9,536.0 1402.0,539.2 Q1403.0,542.4 1404.0,543.2 Q1405.1,544.0 1410.9,544.0 Q1416.8,544.0 1418.9,542.1 Q1421.0,540.3 1423.7,539.8 Q1426.3,539.2 1428.4,539.8 Q1430.6,540.3 1432.7,540.3 Q1434.8,540.3 1436.4,538.7 Q1438.0,537.1 1439.6,536.0 Q1441.2,535.0 1442.8,535.5 Q1444.4,536.0 1446.5,537.1 Q1448.6,538.2 1450.2,539.8 Q1451.8,541.3 1453.1,542.4 Q1454.4,543.5 1456.3,542.7 Q1458.2,541.9 1459.8,541.3 Q1461.3,540.8 1462.4,537.9 Q1463.5,535.0 1464.2,531.0 Q1465.0,527.0 1466.3,526.2 Q1467.7,525.4 1468.8,527.3 Q1469.8,529.2 1470.8,531.3 Q1471.9,533.4 1473.0,534.0 Q1474.1,534.5 1477.0,534.2 Q1480.0,533.9 1486.3,533.9 Q1492.7,533.9 1494.3,532.0 Q1495.9,530.2 1497.2,529.7 Q1498.6,529.2 1502.0,529.2 Q1505.5,529.2 1507.6,530.5 Q1509.7,531.8 1511.8,532.6 Q1513.9,533.4 1516.1,533.6 Q1518.2,533.9 1526.7,533.9 Q1535.1,533.9 1536.4,533.1 Q1537.8,532.3 1538.6,531.0 Q1539.4,529.7 1541.5,527.9 Q1543.6,526.0 1548.9,525.5 Q1554.2,524.9 1555.3,526.0 Q1556.4,527.0 1560.6,527.5 Q1564.8,528.1 1566.9,526.8 Q1569.1,525.4 1571.2,523.0 Q1573.3,520.7 1575.4,521.2 Q1577.6,521.7 1579.7,523.0 Q1581.8,524.4 1583.4,526.0 Q1585.0,527.6 1586.6,525.5 Q1588.2,523.3 1589.2,520.1 Q1590.3,517.0 1591.6,515.9 Q1592.9,514.8 1594.2,516.4 Q1595.6,518.0 1596.7,520.6 Q1597.7,523.3 1601.4,523.3 Q1605.1,523.3 1606.7,526.5 Q1608.3,529.7 1609.9,530.8 Q1611.5,531.8 1614.7,531.8 Q1617.9,531.8 1620.0,530.2 Q1622.1,528.6 1624.2,527.0 Q1626.3,525.4 1626.8,522.0 Q1627.4,518.5 1629.0,516.6 Q1630.6,514.8 1631.9,511.6 Q1633.2,508.5 1634.6,507.1 Q1635.9,505.8 1638.0,505.7 Q1640.0,505.6 1642.0,506.0 Q1644.1,506.4 1645.3,507.9 Q1646.6,509.3 1647.8,509.9 Q1649.0,510.5 1655.5,510.7 Q1662.1,510.9 1663.3,511.5 Q1664.6,512.1 1665.8,513.8 Q1667.0,515.4 1669.0,518.2 Q1671.1,521.1 1672.3,523.2 Q1673.6,525.2 1674.8,524.4 Q1676.1,523.6 1676.9,522.0 Q1677.7,520.3 1679.0,518.6 Q1680.2,517.0 1682.5,515.6 Q1684.7,514.2 1686.1,515.2 Q1687.5,516.2 1688.8,518.7 Q1690.0,521.1 1691.2,523.0 Q1692.5,524.8 1694.1,524.2 Q1695.7,523.6 1696.6,522.0 Q1697.4,520.3 1698.6,517.8 Q1699.8,515.4 1701.0,512.5 Q1702.3,509.7 1703.9,508.9 Q1705.6,508.0 1707.7,506.8 Q1709.7,505.6 1713.8,505.6 L1717.9,505.6" fill="none" stroke="#2258ff" stroke-width="4.0" stroke-linejoin="round" stroke-linecap="butt"/>
<path d="M114.3,524.0 Q120.1,524.0 121.9,524.7 Q123.7,525.4 125.8,526.8 Q128.0,528.3 129.4,536.2 Q130.8,544.1 132.2,545.2 Q133.7,546.2 135.8,548.0 Q138.0,549.8 139.4,550.1 Q140.9,550.5 142.7,552.5 Q144.5,554.5 154.6,554.5 Q164.6,554.5 167.4,555.4 Q170.3,556.3 172.4,555.5 Q174.6,554.8 181.8,554.8 Q189.0,554.8 191.8,555.5 Q194.7,556.3 199.0,556.3 Q203.3,556.3 205.8,555.5 Q208.3,554.8 236.3,554.8 Q264.3,554.8 265.7,557.0 Q267.1,559.1 268.9,561.6 Q270.7,564.1 272.1,562.4 Q273.6,560.6 275.1,557.7 Q276.5,554.8 288.2,554.8 Q300.0,554.8 319.4,554.8 Q338.7,554.8 340.1,555.5 Q341.6,556.3 343.1,558.0 Q344.5,559.6 345.9,559.7 Q347.3,559.8 359.5,559.8 Q371.7,559.8 373.1,558.4 Q374.6,557.0 376.1,555.8 Q377.5,554.5 383.2,554.5 Q389.0,554.5 391.9,555.0 Q394.7,555.5 402.6,555.5 Q410.5,555.5 412.6,555.0 Q414.8,554.5 416.2,555.0 Q417.6,555.5 419.1,556.8 Q420.5,558.1 421.9,557.9 Q423.4,557.7 425.2,556.2 Q427.0,554.8 433.4,554.6 Q439.9,554.5 440.9,555.4 Q442.0,556.3 443.4,559.8 Q444.9,563.4 446.0,564.1 Q447.1,564.9 448.1,563.8 Q449.2,562.7 450.3,559.5 Q451.4,556.3 452.1,555.4 Q452.8,554.5 453.9,554.6 Q454.9,554.8 456.4,556.2 Q457.8,557.7 459.2,558.2 Q460.7,558.8 462.5,561.1 Q464.3,563.4 465.4,564.0 Q466.4,564.6 475.4,564.6 Q484.4,564.6 485.4,565.5 Q486.5,566.3 487.9,567.6 Q489.4,568.9 489.7,568.8 Q490.0,568.7 499.4,568.7 Q508.7,568.7 510.1,569.4 Q511.5,570.1 513.0,571.2 Q514.4,572.3 517.2,573.0 Q520.1,573.7 523.7,573.7 Q527.3,573.7 528.4,573.0 Q529.5,572.3 530.9,569.4 Q532.3,566.5 534.8,566.1 Q537.3,565.8 540.2,566.1 Q543.1,566.5 545.2,567.2 Q547.4,568.0 549.5,568.4 Q551.7,568.7 555.3,568.7 Q558.9,568.7 560.3,567.2 Q561.7,565.8 563.2,564.0 Q564.6,562.2 571.0,562.2 Q577.5,562.2 579.3,563.0 Q581.1,563.7 582.5,563.7 Q584.0,563.7 585.0,561.9 Q586.1,560.1 587.2,558.0 Q588.3,555.8 589.3,555.0 Q590.4,554.3 591.5,551.5 Q592.6,548.6 593.3,537.9 Q594.0,527.1 595.1,525.3 Q596.2,523.5 597.6,522.8 Q599.0,522.1 600.1,520.7 Q601.2,519.2 603.0,518.1 Q604.8,517.0 605.8,515.2 Q606.9,513.5 608.0,511.7 Q609.1,509.9 610.2,508.8 Q611.2,507.7 611.6,504.5 Q612.0,501.3 612.7,489.8 Q613.4,478.3 614.1,477.2 Q614.8,476.1 618.4,476.1 Q622.0,476.1 623.0,475.4 Q624.1,474.7 625.5,472.9 Q627.0,471.1 633.8,471.1 Q640.6,471.1 642.8,472.9 Q644.9,474.7 646.0,475.4 Q647.1,476.1 648.2,475.1 Q649.3,474.0 650.7,472.9 Q652.1,471.8 653.2,472.9 Q654.3,474.0 655.7,477.2 Q657.1,480.5 658.2,480.9 Q659.3,481.2 661.1,479.2 Q662.9,477.2 664.7,476.3 Q666.5,475.4 668.3,474.7 Q670.1,474.0 672.6,473.3 Q675.1,472.6 677.2,471.9 Q679.4,471.1 679.7,471.0 Q680.0,470.8 681.6,468.7 Q683.2,466.6 685.9,466.1 Q688.5,465.5 692.2,465.8 Q695.9,466.1 698.0,465.0 Q700.1,463.9 701.5,463.4 Q702.8,462.9 704.6,463.7 Q706.5,464.5 707.9,465.0 Q709.2,465.5 710.5,464.7 Q711.8,463.9 714.0,462.9 Q716.1,461.8 718.0,460.5 Q719.8,459.2 721.1,458.9 Q722.4,458.6 724.0,459.4 Q725.6,460.2 727.2,460.5 Q728.8,460.8 729.8,459.5 Q730.9,458.1 732.0,456.8 Q733.0,455.5 735.1,454.9 Q737.3,454.4 739.6,454.1 Q742.0,453.9 743.9,453.1 Q745.7,452.3 747.0,452.8 Q748.4,453.3 749.5,456.5 Q750.5,459.7 751.5,461.8 Q752.6,463.9 754.5,463.9 Q756.4,463.9 759.5,463.1 Q762.7,462.3 764.9,461.8 Q767.0,461.3 768.0,459.5 Q769.1,457.6 770.4,456.2 Q771.7,454.9 773.0,455.7 Q774.4,456.5 775.5,458.1 Q776.5,459.7 777.5,459.9 Q778.6,460.2 781.0,459.4 Q783.4,458.6 785.2,459.1 Q787.1,459.7 788.7,460.8 Q790.3,461.8 792.4,461.6 Q794.5,461.3 796.4,461.3 Q798.2,461.3 799.5,463.4 Q800.9,465.5 802.5,466.9 Q804.1,468.2 805.2,469.2 Q806.2,470.3 807.5,472.4 Q808.8,474.5 809.9,474.0 Q811.0,473.5 812.0,470.1 Q813.1,466.6 814.4,466.1 Q815.7,465.5 816.8,466.9 Q817.9,468.2 819.0,471.1 Q820.0,474.0 821.0,474.2 Q822.1,474.5 823.5,472.9 Q824.8,471.4 826.3,470.6 Q827.9,469.8 829.5,470.3 Q831.1,470.8 833.0,471.4 Q834.8,471.9 835.8,470.5 Q836.9,469.2 838.0,467.4 Q839.1,465.5 840.7,465.2 Q842.2,465.0 848.0,465.2 Q853.9,465.5 855.5,466.6 Q857.1,467.6 858.4,468.4 Q859.7,469.2 861.0,468.4 Q862.4,467.6 864.0,466.1 Q865.6,464.5 867.2,464.8 Q868.8,465.0 870.9,466.1 Q873.0,467.1 875.1,467.6 Q877.2,468.2 878.6,468.7 Q880.0,469.2 881.0,470.3 Q882.1,471.4 883.5,472.7 Q884.8,474.0 885.8,472.7 Q886.9,471.4 888.2,469.5 Q889.5,467.6 891.4,467.1 Q893.3,466.6 895.1,465.6 Q897.0,464.5 898.3,465.0 Q899.6,465.5 901.2,467.4 Q902.8,469.2 903.8,468.7 Q904.9,468.2 906.0,466.0 Q907.0,463.9 908.4,462.9 Q909.7,461.8 911.8,462.1 Q913.9,462.3 918.1,462.3 Q922.4,462.3 923.8,463.6 Q925.1,465.0 926.4,466.6 Q927.7,468.2 930.4,467.9 Q933.0,467.6 937.2,467.4 Q941.5,467.1 942.5,465.5 Q943.6,463.9 944.7,461.8 Q945.7,459.7 947.3,459.4 Q948.9,459.2 951.5,459.2 Q954.2,459.2 955.3,460.0 Q956.4,460.8 957.7,463.5 Q959.0,466.1 960.4,466.9 Q961.7,467.6 963.2,469.5 Q964.8,471.4 966.4,472.1 Q968.0,472.9 970.1,473.2 Q972.3,473.5 974.4,472.7 Q976.5,471.9 978.6,471.6 Q980.7,471.4 982.9,471.1 Q985.0,470.8 987.1,472.1 Q989.2,473.5 991.9,474.0 Q994.5,474.5 998.2,474.2 Q1002.0,474.0 1006.8,474.6 Q1011.5,475.1 1013.6,473.8 Q1015.7,472.4 1016.8,472.6 Q1017.9,472.9 1019.0,474.8 Q1020.0,476.7 1021.3,478.0 Q1022.6,479.3 1024.0,478.0 Q1025.3,476.7 1026.9,475.6 Q1028.5,474.5 1030.0,474.8 Q1031.6,475.1 1033.8,475.9 Q1035.9,476.7 1038.0,478.0 Q1040.1,479.3 1043.8,479.9 Q1047.6,480.4 1049.2,479.0 Q1050.7,477.7 1052.3,476.6 Q1053.9,475.6 1055.0,477.2 Q1056.0,478.8 1057.1,483.1 Q1058.2,487.3 1059.0,488.8 Q1059.7,490.2 1060.8,489.0 Q1061.9,487.8 1062.7,483.3 Q1063.5,478.8 1064.5,476.6 Q1065.6,474.5 1067.7,473.4 Q1069.8,472.4 1071.4,472.0 Q1073.0,471.6 1076.5,471.8 Q1080.0,471.9 1082.7,472.7 Q1085.3,473.5 1087.9,474.6 Q1090.6,475.6 1093.8,476.6 Q1097.0,477.7 1099.1,476.1 Q1101.2,474.5 1102.8,474.0 Q1104.4,473.5 1107.6,474.3 Q1110.8,475.1 1113.4,475.9 Q1116.1,476.7 1117.4,475.1 Q1118.7,473.5 1120.1,472.1 Q1121.4,470.8 1125.6,470.8 Q1129.8,470.8 1131.4,471.9 Q1133.0,472.9 1135.2,473.7 Q1137.3,474.5 1139.4,476.4 Q1141.5,478.3 1143.6,476.7 Q1145.7,475.1 1147.3,474.8 Q1148.9,474.5 1151.6,475.3 Q1154.2,476.1 1156.8,474.8 Q1159.5,473.5 1160.6,474.0 Q1161.7,474.5 1162.8,479.8 Q1163.8,485.1 1164.8,486.7 Q1165.9,488.3 1168.6,489.6 Q1171.2,491.0 1172.8,492.1 Q1174.4,493.1 1176.0,496.3 Q1177.6,499.5 1178.7,499.8 Q1179.7,500.0 1180.5,495.8 Q1181.3,491.5 1182.3,486.2 Q1183.4,480.9 1184.5,479.3 Q1185.5,477.7 1186.3,478.2 Q1187.1,478.8 1188.2,481.5 Q1189.2,484.1 1190.8,485.1 Q1192.4,486.2 1194.5,488.0 Q1196.6,489.9 1200.3,489.9 Q1204.1,489.9 1206.2,488.6 Q1208.3,487.3 1210.9,486.2 Q1213.6,485.1 1215.2,484.6 Q1216.8,484.1 1217.6,486.0 Q1218.4,487.8 1219.2,493.9 Q1220.0,500.0 1221.0,502.1 Q1222.1,504.2 1223.7,504.8 Q1225.3,505.3 1226.9,506.1 Q1228.5,506.9 1230.0,505.9 Q1231.6,504.8 1233.2,504.0 Q1234.8,503.2 1235.8,502.6 Q1236.9,502.1 1238.0,498.9 Q1239.1,495.7 1240.2,494.1 Q1241.2,492.6 1242.2,493.4 Q1243.3,494.2 1244.9,496.3 Q1246.5,498.4 1248.1,498.6 Q1249.7,498.9 1255.5,498.9 Q1261.3,498.9 1262.4,499.9 Q1263.5,501.0 1264.8,504.8 Q1266.1,508.5 1267.4,508.5 Q1268.8,508.5 1271.4,508.5 Q1274.1,508.5 1275.2,505.9 Q1276.2,503.2 1277.2,501.0 Q1278.3,498.9 1279.2,498.9 Q1280.0,498.9 1281.3,500.5 Q1282.7,502.1 1284.0,503.1 Q1285.3,504.2 1286.7,503.1 Q1288.0,502.1 1289.3,500.2 Q1290.6,498.4 1292.2,498.4 Q1293.8,498.4 1295.7,499.7 Q1297.5,501.0 1298.8,500.8 Q1300.1,500.5 1301.4,498.9 Q1302.8,497.3 1304.2,497.1 Q1305.5,496.8 1306.5,498.4 Q1307.6,500.0 1308.4,501.6 Q1309.2,503.2 1310.5,504.2 Q1311.8,505.3 1312.8,507.1 Q1313.9,509.0 1315.0,511.4 Q1316.1,513.8 1316.8,513.5 Q1317.6,513.2 1318.7,510.9 Q1319.8,508.5 1320.6,506.4 Q1321.4,504.2 1323.0,502.6 Q1324.5,501.0 1325.6,499.4 Q1326.7,497.9 1327.8,496.3 Q1328.8,494.7 1330.1,493.9 Q1331.4,493.1 1332.2,490.2 Q1333.0,487.3 1333.5,484.6 Q1334.1,482.0 1334.9,481.2 Q1335.7,480.4 1338.8,480.4 Q1342.0,480.4 1342.8,481.7 Q1343.6,483.0 1344.4,487.8 Q1345.2,492.6 1346.0,496.8 Q1346.8,501.0 1347.8,502.1 Q1348.9,503.2 1351.6,504.0 Q1354.2,504.8 1355.3,503.5 Q1356.4,502.1 1357.5,497.4 Q1358.5,492.6 1359.5,491.8 Q1360.6,491.0 1361.9,492.6 Q1363.2,494.2 1364.0,496.3 Q1364.8,498.4 1365.6,499.7 Q1366.4,501.0 1367.8,501.6 Q1369.1,502.1 1370.2,503.1 Q1371.2,504.2 1372.8,505.0 Q1374.4,505.8 1376.2,506.6 Q1378.1,507.4 1379.2,507.6 Q1380.2,507.9 1381.2,506.0 Q1382.3,504.2 1383.4,502.4 Q1384.5,500.5 1385.8,500.0 Q1387.1,499.5 1389.2,499.5 Q1391.3,499.5 1392.9,498.7 Q1394.5,497.9 1395.5,494.1 Q1396.6,490.4 1397.4,489.9 Q1398.2,489.4 1399.0,490.4 Q1399.8,491.5 1400.6,496.0 Q1401.4,500.5 1402.2,503.9 Q1403.0,507.4 1404.0,508.2 Q1405.1,509.0 1408.3,509.0 Q1411.5,509.0 1412.5,507.7 Q1413.6,506.4 1414.4,502.1 Q1415.2,497.9 1416.0,496.3 Q1416.8,494.7 1417.6,494.9 Q1418.4,495.2 1419.5,497.9 Q1420.5,500.5 1421.5,502.6 Q1422.6,504.8 1425.0,506.1 Q1427.4,507.4 1429.0,507.9 Q1430.6,508.5 1436.4,508.5 Q1442.2,508.5 1443.3,509.8 Q1444.4,511.1 1445.5,514.0 Q1446.5,517.0 1447.5,517.8 Q1448.6,518.5 1449.7,516.1 Q1450.7,513.8 1452.3,511.4 Q1453.9,509.0 1455.0,508.8 Q1456.0,508.5 1457.6,509.8 Q1459.2,511.1 1461.3,512.2 Q1463.5,513.2 1465.0,514.5 Q1466.6,515.9 1468.2,514.0 Q1469.8,512.2 1471.2,510.4 Q1472.5,508.5 1473.5,508.8 Q1474.6,509.0 1475.9,511.9 Q1477.2,514.8 1478.6,516.4 Q1480.0,518.0 1485.3,517.8 Q1490.6,517.5 1492.2,516.7 Q1493.8,515.9 1495.1,513.0 Q1496.4,510.1 1497.5,509.3 Q1498.6,508.5 1499.7,509.8 Q1500.7,511.1 1501.8,513.8 Q1502.8,516.4 1504.2,517.2 Q1505.5,518.0 1508.2,518.2 Q1510.8,518.5 1512.3,519.9 Q1513.9,521.2 1515.0,522.5 Q1516.1,523.8 1518.2,524.3 Q1520.3,524.9 1523.5,525.1 Q1526.7,525.4 1528.6,525.7 Q1530.4,526.0 1531.2,524.1 Q1532.0,522.3 1532.8,517.0 Q1533.6,511.7 1534.3,509.0 Q1535.1,506.4 1536.2,506.4 Q1537.3,506.4 1538.1,509.0 Q1538.9,511.7 1539.7,517.5 Q1540.4,523.3 1541.5,524.9 Q1542.6,526.5 1543.7,527.0 Q1544.7,527.6 1545.5,529.7 Q1546.3,531.8 1547.3,534.2 Q1548.4,536.6 1549.5,535.8 Q1550.5,535.0 1551.3,530.2 Q1552.1,525.4 1552.9,522.2 Q1553.7,519.1 1554.8,518.3 Q1555.8,517.5 1556.8,519.4 Q1557.9,521.2 1558.5,524.4 Q1559.0,527.6 1560.0,528.9 Q1561.1,530.2 1563.5,531.0 Q1565.9,531.8 1567.2,531.5 Q1568.5,531.3 1569.6,528.3 Q1570.7,525.4 1572.0,523.8 Q1573.3,522.3 1575.2,523.0 Q1577.0,523.8 1579.4,525.4 Q1581.8,527.0 1582.8,530.0 Q1583.9,532.9 1585.0,534.8 Q1586.0,536.6 1587.1,535.5 Q1588.2,534.5 1589.2,531.0 Q1590.3,527.6 1591.3,525.7 Q1592.4,523.8 1594.0,523.3 Q1595.6,522.8 1597.7,522.8 Q1599.8,522.8 1601.9,524.4 Q1604.1,526.0 1605.7,526.5 Q1607.3,527.0 1609.9,526.8 Q1612.6,526.5 1613.7,524.4 Q1614.7,522.3 1615.8,520.4 Q1616.8,518.5 1618.9,518.0 Q1621.0,517.5 1625.8,517.5 Q1630.6,517.5 1631.7,519.1 Q1632.7,520.7 1633.8,524.7 Q1634.8,528.6 1635.8,530.0 Q1636.9,531.3 1638.0,530.0 Q1639.1,528.6 1639.5,525.7 Q1640.0,522.8 1641.2,523.2 Q1642.5,523.6 1643.7,525.2 Q1644.9,526.9 1646.6,529.5 Q1648.2,532.2 1649.5,531.8 Q1650.7,531.4 1651.9,528.8 Q1653.1,526.1 1654.3,524.7 Q1655.6,523.2 1658.8,523.0 Q1662.1,522.8 1663.3,517.0 Q1664.6,511.3 1665.4,508.9 Q1666.2,506.4 1670.3,506.4 Q1674.4,506.4 1675.7,508.4 Q1676.9,510.5 1678.1,514.0 Q1679.3,517.5 1680.2,517.7 Q1681.0,517.9 1681.8,515.0 Q1682.6,512.1 1683.4,506.4 Q1684.3,500.7 1685.1,499.9 Q1685.9,499.0 1689.2,499.0 Q1692.5,499.0 1693.3,500.4 Q1694.1,501.9 1695.3,507.0 Q1696.6,512.1 1697.4,517.0 Q1698.2,522.0 1699.0,523.0 Q1699.8,524.0 1700.7,522.1 Q1701.5,520.3 1702.3,517.0 Q1703.1,513.8 1703.9,513.4 Q1704.8,513.0 1705.6,513.2 Q1706.4,513.4 1707.2,516.0 Q1708.0,518.7 1708.8,522.4 Q1709.7,526.1 1710.9,528.5 Q1712.1,531.0 1713.8,532.6 Q1715.4,534.3 1716.7,535.5 L1717.9,536.7" fill="none" stroke="#ff6a00" stroke-width="4.0" stroke-linejoin="round" stroke-linecap="butt"/>
<circle cx="1717.9" cy="464.6" r="22" fill="#28cd94" fill-opacity="0.12"/>
<circle cx="1717.9" cy="505.6" r="22" fill="#2258ff" fill-opacity="0.12"/>
<circle cx="1717.9" cy="536.7" r="22" fill="#ff6a00" fill-opacity="0.12"/>
<circle cx="1717.9" cy="464.6" r="7.8" fill="#28cd94"/>
<circle cx="1717.9" cy="505.6" r="7.8" fill="#2258ff"/>
<circle cx="1717.9" cy="536.7" r="7.8" fill="#ff6a00"/>

</svg>
<div class="a yl" style="top:279px">40%</div>
<div class="a yl" style="top:375px">30%</div>
<div class="a yl" style="top:471px">20%</div>
<div class="a yl" style="top:567px">10%</div>
<div class="a yl" style="top:663px">0%</div>

<div class="a xl" style="left:111px;top:711.5px">Feb 4</div>
<div class="a xl" style="left:475px;top:711.5px">Feb 10</div>
<div class="a xl" style="left:876px;top:711.5px">Feb 16</div>
<div class="a xl" style="left:1277px;top:711.5px">Feb 21</div>
<div class="a xl" style="left:1648px;top:711.5px">Feb 27</div>

<div class="a" style="left:107.5px;top:789.3px;font-size:26px;color:#1a1a1a;transform-origin:0 0;transform:scaleX(0.95)">$1,757,768 vol</div>
<div class="a rg" style="left:1512px;top:789px;transform:scaleX(0.9)">1D</div>
<div class="a rg" style="left:1573px;top:789px;transform:scaleX(0.9)">1W</div>
<div class="a rg" style="left:1641.5px;top:789px;transform:scaleX(0.9)">1M</div>
<div class="a rg" style="left:1709.5px;top:789px;color:#1a1a1a;transform:scaleX(0.9)">ALL</div>
<svg style="position:absolute;left:1785px;top:790px" width="40" height="32" viewBox="1785 790 40 32" stroke="#1a1a1a" stroke-width="3" fill="none">
<path d="M1789,795.5 L1807,795.5 M1789,802.5 L1807,802.5 M1789,809.1 L1799.5,809.1 M1804,809 L1820.6,809 M1812.3,800.4 L1812.3,817.4"/>
</svg>

<div class="sep" style="top:864px"></div>
<div class="a" style="left:860px;top:890px;font-size:27px;color:#6f6f6f">Chance</div>
<svg style="position:absolute;left:1765px;top:890px" width="45" height="32" viewBox="1765 890 45 32" stroke="#1a1a1a" stroke-width="3" fill="none">
<path d="M1773,897.5 L1802.8,897.5 M1773,905.9 L1792.9,905.9 M1773,914.2 L1782.9,914.2"/>
</svg>
<div class="sep" style="top:946px"></div>

<!-- rows -->
<div class="a nm" style="top:994.8px">Kristi Noem</div>
<div class="a pc" style="left:859px;top:983.3px;transform:scaleX(0.76)">22%</div>
<svg class="a" style="left:952.6px;top:1003.7px" width="17.4" height="17.3" viewBox="0 0 17.4 17.3"><path d="M8.7,0 L17.4,17.3 L0,17.3 Z" fill="#10c383"/></svg>
<div class="a ch" style="left:979px;top:998.7px">2</div>
<div class="bt ys" style="top:980px;background:#eef8f4;border-color:#10c383">Yes 22¢</div>
<div class="bt no" style="top:980px">No 79¢</div>
<div class="sep" style="top:1076px"></div>

<div class="a nm" style="top:1124.8px;letter-spacing:0.3px">Howard Lutnick</div>
<div class="a pc" style="left:859px;top:1113.3px;transform:scaleX(0.712)">18%</div>
<svg class="a" style="left:947px;top:1133.7px" width="17.4" height="17.3" viewBox="0 0 17.4 17.3"><path d="M8.7,0 L17.4,17.3 L0,17.3 Z" fill="#10c383"/></svg>
<div class="a ch" style="left:973.1px;top:1128.7px">2</div>
<div class="bt ys" style="top:1110px">Yes 19¢</div>
<div class="bt no" style="top:1110px">No 82¢</div>
<div class="sep" style="top:1206px"></div>

<div class="a nm" style="top:1254.8px">Pam Bondi</div>
<div class="a pc" style="left:859px;top:1243.3px;transform:scaleX(0.71)">15%</div>
<div class="bt ys" style="top:1240px">Yes 17¢</div>
<div class="bt no" style="top:1240px">No 85¢</div>
<div class="sep" style="top:1336px"></div>

<div class="a nm" style="top:1384.8px;letter-spacing:-0.3px">Lori Chavez-DeRemer</div>
<div class="a pc" style="left:859px;top:1373.3px;transform:scaleX(0.707)">12%</div>
<svg class="a" style="left:945.6px;top:1393.7px" width="17.4" height="17.3" viewBox="0 0 17.4 17.3"><path d="M8.7,0 L17.4,17.3 L0,17.3 Z" fill="#10c383"/></svg>
<div class="a ch" style="left:972.1px;top:1388.7px">2</div>
<div class="bt ys" style="top:1370px">Yes 12¢</div>
<div class="bt no" style="top:1370px">No 90¢</div>

</body></html>
